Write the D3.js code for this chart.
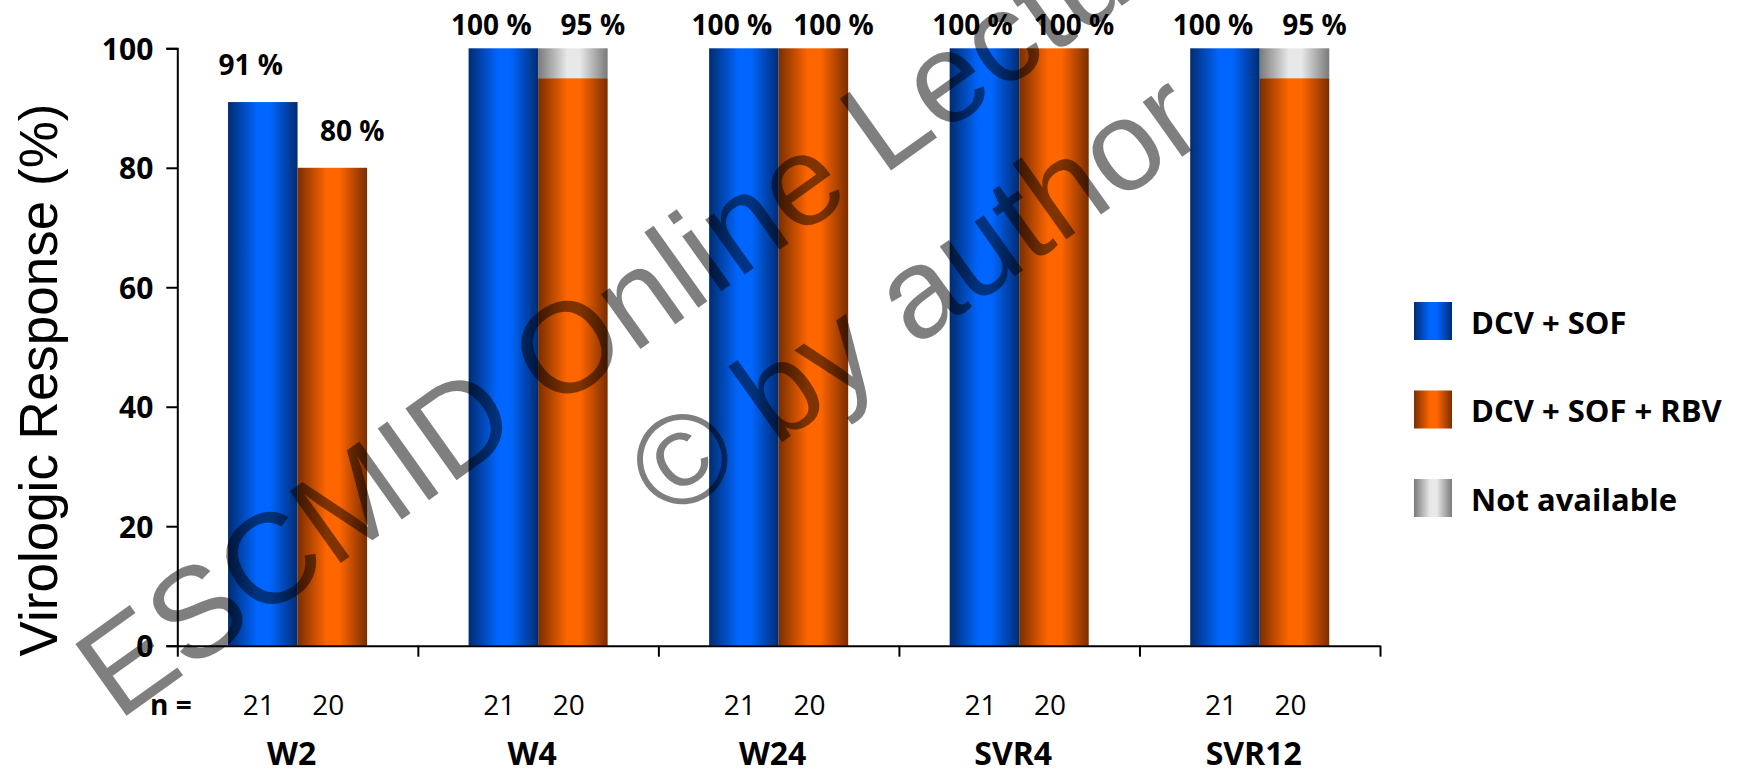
<!DOCTYPE html>
<html>
<head>
<meta charset="utf-8">
<script src="https://cdn.jsdelivr.net/npm/d3@7"></script>
<style>
  html, body { margin: 0; padding: 0; background: #fff; }
  svg { display: block; }
</style>
</head>
<body>
<svg id="chart" width="1741" height="775"></svg>
<script>
// ---- data ----
const categories = ["W2", "W4", "W24", "SVR4", "SVR12"];
const seriesNames = ["DCV + SOF", "DCV + SOF + RBV"];
const dcvSof = [91, 100, 100, 100, 100];
const dcvSofRbv = [80, 95, 100, 100, 95];
const notAvailableSof = [0, 0, 0, 0, 0];
const notAvailableRbv = [0, 5, 0, 0, 5];
const nPerArm = [21, 20];
const yTicks = [0, 20, 40, 60, 80, 100];
const legendLabels = ["DCV + SOF", "DCV + SOF + RBV", "Not available"];
const yTitle = "Virologic Response (%)";
const watermarkLines = ["ESCMID Online Lecture Library", "\u00A9 by author"];

// ---- setup ----
const svg = d3.select("#chart");
const LABEL_FONT = "'Open Sans', 'Noto Sans', sans-serif";
const ARIAL = "'Liberation Sans', Arial, sans-serif";

svg.append("rect").attr("width", 1741).attr("height", 775).attr("fill", "#fff");

const y = d3.scaleLinear().domain([0, 100]).range([645.7, 48.3]);
const x0 = d3.scaleBand().domain(categories).range([177.3, 1380]).padding(0);
const x1 = d3.scaleBand().domain(seriesNames).range([0, x0.bandwidth()])
  .paddingInner(0).paddingOuter(0.73);

// cylinder-like shading: dark edges, bright middle
const defs = svg.append("defs");
function shade(id, edge, mid) {
  const g = defs.append("linearGradient").attr("id", id)
    .attr("x1", 0).attr("x2", 1).attr("y1", 0).attr("y2", 0);
  [[0, edge], [0.42, mid], [0.6, mid], [1, edge]].forEach(([o, c]) =>
    g.append("stop").attr("offset", o).attr("stop-color", c));
}
shade("g-blue", "#002c72", "#0066ff");
shade("g-orange", "#7a2e00", "#ff6600");
shade("g-gray", "#7a7a7a", "#e8e8e8");
const fills = ["url(#g-blue)", "url(#g-orange)"];

const values = [dcvSof, dcvSofRbv];
const missing = [notAvailableSof, notAvailableRbv];
const rows = [];
categories.forEach((c, i) => seriesNames.forEach((s, k) => rows.push({
  cat: c, series: s, k, value: values[k][i], na: missing[k][i]
})));

// ---- bars ----
const bars = svg.append("g");
bars.selectAll("rect.val").data(rows).join("rect")
  .attr("class", "val")
  .attr("x", d => x0(d.cat) + x1(d.series))
  .attr("width", x1.bandwidth())
  .attr("y", d => y(d.value))
  .attr("height", d => y(0) - y(d.value))
  .attr("fill", d => fills[d.k]);

bars.selectAll("rect.na").data(rows.filter(d => d.na > 0)).join("rect")
  .attr("class", "na")
  .attr("x", d => x0(d.cat) + x1(d.series))
  .attr("width", x1.bandwidth())
  .attr("y", d => y(d.value + d.na))
  .attr("height", d => y(d.value) - y(d.value + d.na))
  .attr("fill", "url(#g-gray)");

// value labels
const labelShift = [-12, 20];
svg.append("g").selectAll("text").data(rows).join("text")
  .attr("x", d => x0(d.cat) + x1(d.series) + x1.bandwidth() / 2 + labelShift[d.k])
  .attr("y", d => (d.value + d.na >= 100) ? y(100) - 13 : y(d.value) - 27)
  .attr("text-anchor", "middle")
  .attr("font-family", LABEL_FONT).attr("font-weight", 700).attr("font-size", 28)
  .attr("fill", "#000")
  .text(d => d.value + " %");

// ---- axes ----
const yAxis = svg.append("g").attr("transform", "translate(177.3,0)")
  .call(d3.axisLeft(y).tickValues(yTicks).tickSize(11).tickSizeOuter(11).tickPadding(13));
yAxis.selectAll("text")
  .attr("font-family", LABEL_FONT).attr("font-weight", 700).attr("font-size", 30)
  .attr("fill", "#000").attr("dy", "0.36em");

const xEdge = d3.scaleLinear().domain([0, categories.length]).range(x0.range());
const xAxis = svg.append("g").attr("transform", `translate(0,${y(0)})`)
  .call(d3.axisBottom(xEdge).tickValues(d3.range(categories.length + 1))
    .tickSize(11).tickSizeOuter(0).tickFormat(() => ""));

[yAxis, xAxis].forEach(a => {
  a.selectAll("path.domain").attr("stroke", "#000").attr("stroke-width", 2);
  a.selectAll(".tick line").attr("stroke", "#000").attr("stroke-width", 2);
});

// n per arm
svg.append("text").attr("x", 150).attr("y", 715)
  .attr("font-family", LABEL_FONT).attr("font-weight", 700).attr("font-size", 28)
  .text("n =");
svg.append("g").selectAll("text").data(rows).join("text")
  .attr("x", d => x0(d.cat) + x1(d.series) + x1.bandwidth() / 2 - 4)
  .attr("y", 715)
  .attr("text-anchor", "middle")
  .attr("font-family", LABEL_FONT).attr("font-size", 28)
  .text(d => nPerArm[d.k]);

// category names
svg.append("g").selectAll("text").data(categories).join("text")
  .attr("x", c => x0(c) + x0.bandwidth() / 2 - 6)
  .attr("y", 765)
  .attr("text-anchor", "middle")
  .attr("font-family", LABEL_FONT).attr("font-weight", 700).attr("font-size", 32)
  .text(c => c);

// y title
svg.append("text")
  .attr("transform", "translate(57,380) rotate(-90)")
  .attr("text-anchor", "middle")
  .attr("font-family", ARIAL).attr("font-size", 53)
  .text(yTitle);

// ---- legend ----
const legendFills = ["url(#g-blue)", "url(#g-orange)", "url(#g-gray)"];
const legend = svg.append("g").selectAll("g").data(legendLabels).join("g")
  .attr("transform", (d, i) => `translate(1414,${302 + i * 88.5})`);
legend.append("rect").attr("width", 38).attr("height", 38)
  .attr("fill", (d, i) => legendFills[i]);
legend.append("text").attr("x", 57).attr("y", 31.5)
  .attr("font-family", LABEL_FONT).attr("font-weight", 700).attr("font-size", 31)
  .text(d => d);

// ---- watermark ----
const wm = svg.append("g").attr("transform", "translate(847.8,201.2) rotate(-35.5)");
wm.selectAll("text").data(watermarkLines).join("text")
  .attr("x", 0).attr("y", (d, i) => i * 158)
  .attr("text-anchor", "middle")
  .attr("font-family", ARIAL).attr("font-size", 128)
  .attr("fill", "#000").attr("fill-opacity", 0.5)
  .text(d => d);
</script>
</body>
</html>
